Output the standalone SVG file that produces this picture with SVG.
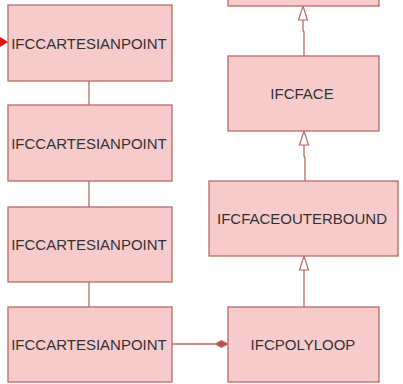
<svg xmlns="http://www.w3.org/2000/svg" width="403" height="384" viewBox="0 0 403 384">
<style>
.box{fill:#f7cbcb;stroke:#b86a6a;stroke-width:1.3}
.lbl{font-family:"Liberation Sans",Arial,sans-serif;font-size:15px;fill:#333;text-anchor:middle}
.ln{fill:none;stroke:#b86a6a;stroke-width:1.3}
.hollow{fill:#fff;stroke:#b86a6a;stroke-width:1.2}
</style>
<rect width="403" height="384" fill="#fff"/>
<g id="connectors">
<line class="ln" x1="89" y1="81" x2="89" y2="105"/>
<line class="ln" x1="89" y1="181" x2="89" y2="207"/>
<line class="ln" x1="89" y1="282" x2="89" y2="307"/>
<path class="ln" d="M304,56 V32 L303,30 V20"/>
<path class="hollow" d="M298.5,20 L303,6 L307.5,20 Z"/>
<path class="ln" d="M305,181 V158 L304,156 V145"/>
<path class="hollow" d="M299.5,145 L304,131 L308.5,145 Z"/>
<line class="ln" x1="304" y1="307" x2="304" y2="270"/>
<path class="hollow" d="M299.5,270 L304,256 L308.5,270 Z"/>
<line class="ln" x1="172" y1="344" x2="215" y2="344"/>
<path d="M215,344 L221.5,340.5 L228,344 L221.5,347.5 Z" fill="#c0504f" stroke="#b86a6a" stroke-width="1"/>
<path d="M0,37 L8,42 L0,47 Z" fill="#e01010"/>
</g>
<g id="top-box"><rect class="box" x="228" y="-10" width="151" height="16"/></g>
<g id="cp1"><rect class="box" x="8" y="5" width="164" height="76"/><text class="lbl" x="89" y="48.5">IFCCARTESIANPOINT</text></g>
<g id="cp2"><rect class="box" x="8" y="105" width="164" height="76"/><text class="lbl" x="89" y="148.5">IFCCARTESIANPOINT</text></g>
<g id="cp3"><rect class="box" x="8" y="207" width="164" height="75"/><text class="lbl" x="89" y="249.5">IFCCARTESIANPOINT</text></g>
<g id="cp4"><rect class="box" x="8" y="307" width="164" height="75"/><text class="lbl" x="89" y="349.5">IFCCARTESIANPOINT</text></g>
<g id="face"><rect class="box" x="228" y="56" width="151" height="75"/><text class="lbl" x="302" y="98.5">IFCFACE</text></g>
<g id="faceouterbound"><rect class="box" x="209" y="181" width="189" height="75"/><text class="lbl" x="302" y="223.5">IFCFACEOUTERBOUND</text></g>
<g id="polyloop"><rect class="box" x="228" y="307" width="151" height="75"/><text class="lbl" x="303" y="349.5">IFCPOLYLOOP</text></g>
</svg>
